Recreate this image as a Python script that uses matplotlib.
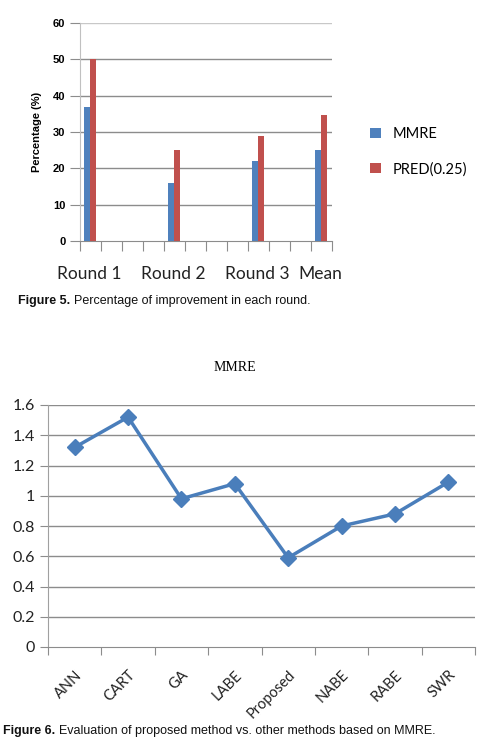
import matplotlib.pyplot as plt

# top chart: percentage of improvement per round
rounds = ['Round 1', 'Round 2', 'Round 3', 'Mean']
round_slots = [0, 4, 8, 11]          # position on the 12-slot category axis
mmre_pct = [36.8, 16.0, 22.0, 25.0]
pred_pct = [50.0, 25.0, 28.8, 34.6]

# bottom chart: MMRE of each method
methods = ['ANN', 'CART', 'GA', 'LABE', 'Proposed', 'NABE', 'RABE', 'SWR']
mmre = [1.32, 1.52, 0.98, 1.08, 0.59, 0.80, 0.88, 1.09]

blue = '#4F81BD'
red = '#C0504D'
W, H = 479, 737

fig = plt.figure(figsize=(W / 100, H / 100), dpi=100)
fig.patch.set_facecolor('white')


def caption(x, y, head, body, size):
    t = fig.text(x / W, 1 - y / H, head, fontsize=size, va='center', fontweight='bold',
                 family='Liberation Sans', color='#111111')
    fig.text(0, 0, '')  # keep text list simple
    plt.annotate(body, xy=(1, 0.5), xycoords=t, xytext=(3, 0), textcoords='offset points',
                 va='center', fontsize=size, family='Liberation Sans', color='#111111')


# ---------------- Figure 5 ----------------
ax = fig.add_axes([80 / W, 1 - 241 / H, 252 / W, 218 / H])
bw = 0.28
ax.bar([s + 0.34 for s in round_slots], mmre_pct, width=bw, color=blue, label='MMRE', zorder=3)
ax.bar([s + 0.62 for s in round_slots], pred_pct, width=bw, color=red, label='PRED(0.25)', zorder=3)
ax.set_xlim(0, 12)
ax.set_ylim(0, 60)
ax.set_yticks(range(0, 61, 10))
for y in range(10, 61, 10):
    ax.axhline(y, color='#8c8c8c' if y < 60 else '#c8c8c8', lw=1, zorder=1)
ax.set_xticks(range(13))
ax.set_xticklabels([])
ax.set_xticks([s + 0.42 for s in round_slots], minor=True)
ax.set_xticklabels(rounds, minor=True, fontsize=12.5, family='Lato', color='#222222')
ax.tick_params(axis='x', which='major', length=7, color='#8c8c8c', direction='out')
ax.tick_params(axis='x', which='minor', length=0, pad=18)
ax.tick_params(axis='y', length=7, color='#8c8c8c', labelsize=8)
for lab in ax.get_yticklabels():
    lab.set_fontweight('bold')
    lab.set_family('Liberation Sans')
for s in ['top', 'right']:
    ax.spines[s].set_visible(False)
ax.spines['left'].set_color('#c0c0c0')
ax.spines['bottom'].set_color('#8c8c8c')
ax.set_ylabel('Percentage (%)', fontsize=8, fontweight='bold', family='Liberation Sans', labelpad=8)
ax.legend(loc='center left', bbox_to_anchor=(1.1, 0.41), frameon=False, handlelength=0.7,
          handleheight=0.7, labelspacing=1.45, prop={'family': 'Lato', 'size': 10.5})

caption(18, 301, 'Figure 5.', 'Percentage of improvement in each round.', 9)

# ---------------- Figure 6 ----------------
fig.text(235 / W, 1 - 368 / H, 'MMRE', fontsize=10, ha='center', va='center', family='Liberation Serif')

ax2 = fig.add_axes([48 / W, 1 - 647 / H, 427 / W, 242 / H])
x = [i + 0.5 for i in range(len(methods))]
ax2.plot(x, mmre, color='#4A7EBB', lw=2.5, marker='D', ms=8, zorder=3)
ax2.set_xlim(0, len(methods))
ax2.set_ylim(0, 1.6)
ax2.set_yticks([0, 0.2, 0.4, 0.6, 0.8, 1.0, 1.2, 1.4, 1.6])
ax2.set_yticklabels(['0', '0.2', '0.4', '0.6', '0.8', '1', '1.2', '1.4', '1.6'],
                    fontsize=11.5, family='Lato', color='#222222')
for y in [0.2, 0.4, 0.6, 0.8, 1.0, 1.2, 1.4, 1.6]:
    ax2.axhline(y, color='#8c8c8c', lw=1, zorder=1)
ax2.set_xticks(range(len(methods) + 1))
ax2.set_xticklabels([])
ax2.set_xticks(x, minor=True)
ax2.set_xticklabels(methods, minor=True, rotation=45, ha='right', rotation_mode='anchor',
                    fontsize=10.5, family='Lato', color='#222222')
ax2.tick_params(axis='x', which='major', length=6, color='#8c8c8c')
ax2.tick_params(axis='x', which='minor', length=0, pad=15)
ax2.tick_params(axis='y', length=6, color='#8c8c8c')
for s in ['top', 'right']:
    ax2.spines[s].set_visible(False)
ax2.spines['left'].set_color('#a0a0a0')
ax2.spines['bottom'].set_color('#8c8c8c')

caption(3, 731, 'Figure 6.', 'Evaluation of proposed method vs. other methods based on MMRE.', 9)

fig.savefig('out.png', dpi=100)
